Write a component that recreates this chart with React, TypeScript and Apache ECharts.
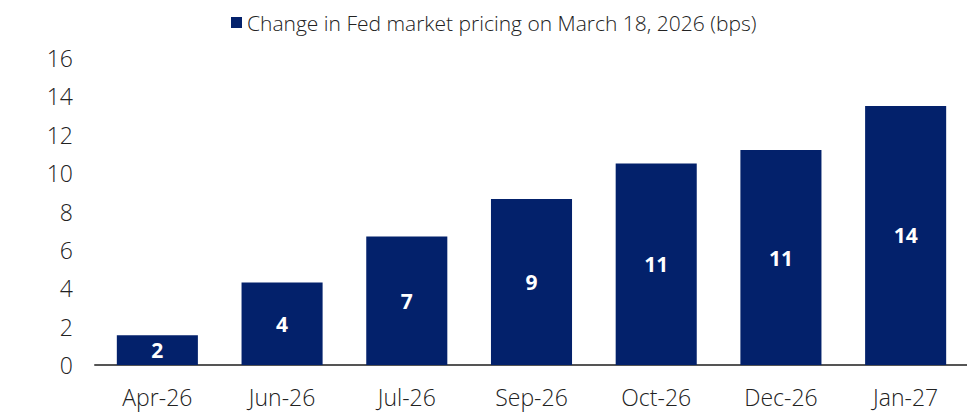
import React, { useEffect, useRef } from "react";
import * as echarts from "echarts";

const categories = ["Apr-26", "Jun-26", "Jul-26", "Sep-26", "Oct-26", "Dec-26", "Jan-27"];
const values = [1.55, 4.3, 6.7, 8.65, 10.5, 11.2, 13.5];
const seriesName = "Change in Fed market pricing on March 18, 2026 (bps)";
const yTicks = { min: 0, max: 16, interval: 2 };

const FONT = "'Open Sans', 'Noto Sans', sans-serif";
const NAVY = "#03216B";

export default function App() {
  const ref = useRef<HTMLDivElement>(null);
  useEffect(() => {
    if (!ref.current) return;
    const chart = echarts.init(ref.current, undefined, { renderer: "svg" });
    chart.setOption({
      animation: false,
      textStyle: { fontFamily: FONT },
      legend: {
        top: -1,
        left: 218,
        itemWidth: 11,
        itemHeight: 11,
        itemGap: 4,
        icon: "rect",
        textStyle: { fontFamily: FONT, fontSize: 21, fontWeight: 300, color: "#222" },
        data: [seriesName],
      },
      grid: { left: 87, right: 1, top: 50, bottom: 49 },
      xAxis: {
        type: "category",
        data: categories,
        axisLine: { lineStyle: { color: "#555", width: 2 } },
        axisTick: { show: false },
        axisLabel: { fontFamily: FONT, fontSize: 23, fontWeight: 300, color: "#222", margin: 20 },
      },
      yAxis: {
        type: "value",
        min: yTicks.min,
        max: yTicks.max,
        interval: yTicks.interval,
        splitLine: { show: false },
        axisLine: { show: false },
        axisTick: { show: false },
        axisLabel: { fontFamily: FONT, fontSize: 23, fontWeight: 300, color: "#222", margin: 22 },
      },
      series: [
        {
          name: seriesName,
          type: "bar",
          data: values,
          barWidth: "65%",
          itemStyle: { color: NAVY },
          label: {
            show: true,
            position: "inside",
            color: "#fff",
            fontFamily: FONT,
            fontWeight: "bold",
            fontSize: 21,
            formatter: (p: any) => String(Math.round(p.value)),
          },
        },
      ],
    });
    return () => chart.dispose();
  }, []);
  return <div ref={ref} style={{ width: 961, height: 406 }} />;
}
